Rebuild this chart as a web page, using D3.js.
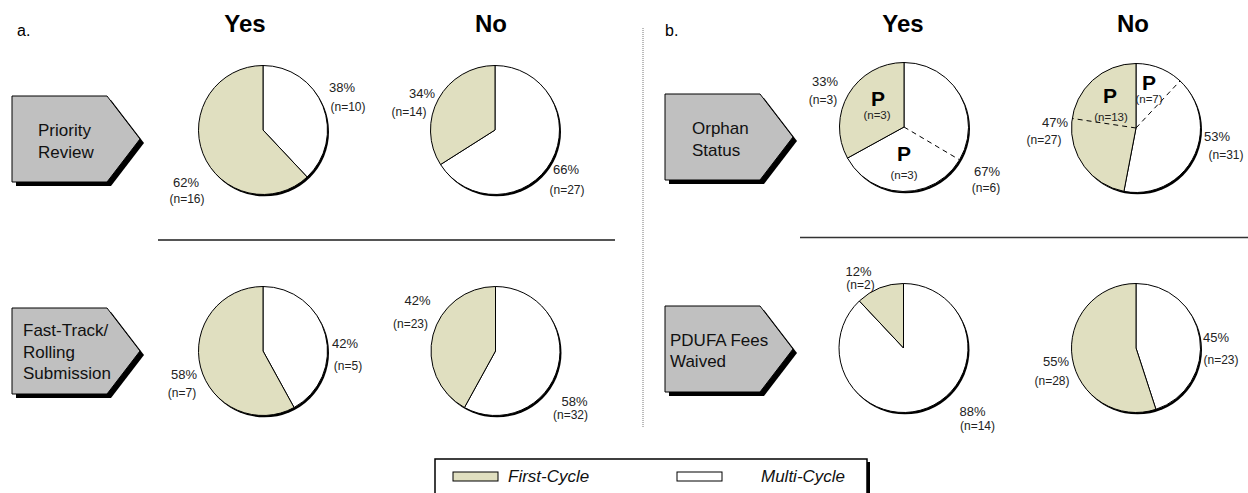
<!DOCTYPE html>
<html>
<head>
<meta charset="utf-8">
<script src="https://cdn.jsdelivr.net/npm/d3@7"></script>
<style>
  body { margin: 0; background: #fff; }
  svg { display: block; font-family: "Liberation Sans", Arial, sans-serif; }
</style>
</head>
<body>
<div class="chart"></div>
<script>
// data
const panelLetters = ['a.', 'b.'];
const columnHeads = ['Yes', 'No'];
const rowLabels = [['Priority', 'Review'], ['Fast-Track/', 'Rolling', 'Submission'], ['Orphan', 'Status'], ['PDUFA Fees', 'Waived']];
// pies ordered: Priority Yes, Priority No, Fast-Track Yes, Fast-Track No, Orphan Yes, Orphan No, PDUFA Yes, PDUFA No
const firstPct = [62, 34, 58, 42, 33, 47, 12, 55];
const multiPct = [38, 66, 42, 58, 67, 53, 88, 45];
const firstN = [16, 14, 7, 23, 3, 27, 2, 28];
const multiN = [10, 27, 5, 32, 6, 31, 14, 23];
// "P" sub-groups (only the orphan pies), null = none
const firstP = [null, null, null, null, 3, 13, null, null];
const multiP = [null, null, null, null, 3, 7, null, null];
const legendLabels = ['First-Cycle', 'Multi-Cycle'];

// layout
const width = 1248;
const height = 493;
const beige = '#e0dfc0';
const radius = 64.5;
const pieCenters = [
  [263, 130], [495, 130], [263, 351], [495.5, 351],
  [904, 127], [1136, 128], [903.5, 348], [1136, 348],
];
// label offsets from pie centre: [pctDx, pctDy, nDx, nDy]
const firstLabelPos = [
  [-77, 52, -76, 69], [-73, -37, -86, -18], [-79, 23, -81, 42], [-78, -51, -85, -27],
  [-79, -46, -81, -27], [-81, -6, -92, 12], [-45, -77, -43, -63], [-80, 13, -84, 33],
];
const multiLabelPos = [
  [79, -43, 85, -23], [71, 39, 72, 60], [82, -8, 85, 15], [79, 50, 75, 64],
  [83, 44, 82, 61], [81, 8, 90, 27], [69, 63, 74, 78], [80, -11, 85, 12],
];
// P label offsets [pDx, pBaselineDy, nDx, nDy]
const firstPPos = [null, null, null, null, [-26, -21, -27, -12], [-26, -25, -25, -11], null, null];
const multiPPos = [null, null, null, null, [0, 34, 0, 48], [13, -38, 13, -29], null, null];
const arrowBoxes = [
  { x: 12, y: 96, text: 38, lines: [130, 152] },
  { x: 12, y: 308, text: 23, lines: [330, 352, 373] },
  { x: 665, y: 94, text: 692, lines: [128, 150] },
  { x: 665, y: 306, text: 670, lines: [340, 361] },
];

const svg = d3.select('.chart').append('svg')
  .attr('width', width)
  .attr('height', height);

// panel letters and column heads
svg.selectAll('text.panel')
  .data(panelLetters)
  .enter()
  .append('text')
  .attr('class', 'panel')
  .attr('x', (d, i) => [17, 665][i])
  .attr('y', 30)
  .attr('dominant-baseline', 'central')
  .style('font-size', '16px')
  .text(d => d);

const headPos = [[245, 491], [903, 1133]];
headPos.forEach(xs => {
  xs.forEach((x, i) => {
    svg.append('text')
      .attr('x', x)
      .attr('y', 23)
      .attr('text-anchor', 'middle')
      .attr('dominant-baseline', 'central')
      .style('font-size', '24px')
      .style('font-weight', 'bold')
      .text(columnHeads[i]);
  });
});

// dividers
svg.append('line')
  .attr('x1', 643).attr('x2', 643)
  .attr('y1', 28).attr('y2', 427)
  .attr('stroke', '#777')
  .attr('stroke-width', 1)
  .attr('stroke-dasharray', '1,1');
svg.append('line')
  .attr('x1', 158).attr('x2', 615)
  .attr('y1', 240).attr('y2', 240)
  .attr('stroke', '#555')
  .attr('stroke-width', 2);
svg.append('line')
  .attr('x1', 800).attr('x2', 1248)
  .attr('y1', 237.5).attr('y2', 237.5)
  .attr('stroke', '#333')
  .attr('stroke-width', 1.5);

// arrow label boxes
const arrowPath = b => {
  const w = 95, tip = 33, h = 86;
  return `M${b.x},${b.y}H${b.x + w}L${b.x + w + tip},${b.y + h / 2}L${b.x + w},${b.y + h}H${b.x}Z`;
};
arrowBoxes.forEach((b, i) => {
  svg.append('path')
    .attr('d', arrowPath(b))
    .attr('transform', 'translate(4,4)')
    .attr('fill', '#000');
  svg.append('path')
    .attr('d', arrowPath(b))
    .attr('fill', '#c0c0c0')
    .attr('stroke', '#000')
    .attr('stroke-width', 1);
  rowLabels[i].forEach((line, j) => {
    svg.append('text')
      .attr('x', b.text)
      .attr('y', b.lines[j])
      .attr('dominant-baseline', 'central')
      .style('font-size', '17px')
      .attr('fill', '#111')
      .text(line);
  });
});

// pies
const pie = d3.pie().sort(null).value(d => d.value);
const arc = d3.arc().innerRadius(0).outerRadius(radius);
const pointAt = a => [Math.sin(a) * radius, -Math.cos(a) * radius];

firstPct.forEach((fp, i) => {
  const [cx, cy] = pieCenters[i];
  const g = svg.append('g').attr('transform', `translate(${cx},${cy})`);
  g.append('circle')
    .attr('cx', 1.5).attr('cy', 1.8)
    .attr('r', radius)
    .attr('fill', '#000');
  const slices = pie([
    { key: 'multi', value: multiPct[i] },
    { key: 'first', value: fp },
  ]);
  g.selectAll('path')
    .data(slices)
    .enter()
    .append('path')
    .attr('d', arc)
    .attr('fill', d => d.data.key === 'first' ? beige : '#fff')
    .attr('stroke', '#000')
    .attr('stroke-width', 1);

  // dashed splits for P sub-groups
  const multiSlice = slices[0];
  const firstSlice = slices[1];
  if (multiP[i] !== null && multiP[i] < multiN[i]) {
    const span = multiSlice.endAngle - multiSlice.startAngle;
    // P group in orphan No sits at the top of the slice, in orphan Yes at the bottom
    const frac = i === 5 ? multiP[i] / multiN[i] : 1 - multiP[i] / multiN[i];
    const [x, y] = pointAt(multiSlice.startAngle + span * frac);
    g.append('line')
      .attr('x1', 0).attr('y1', 0).attr('x2', x).attr('y2', y)
      .attr('stroke', '#000')
      .attr('stroke-dasharray', '5,4');
  }
  if (firstP[i] !== null && firstP[i] < firstN[i]) {
    const span = firstSlice.endAngle - firstSlice.startAngle;
    const [x, y] = pointAt(firstSlice.endAngle - span * (firstP[i] / firstN[i]));
    g.append('line')
      .attr('x1', 0).attr('y1', 0).attr('x2', x).attr('y2', y)
      .attr('stroke', '#000')
      .attr('stroke-dasharray', '5,4');
  }

  // percent + n labels
  const labels = [
    [firstLabelPos[i], `${fp}%`, `(n=${firstN[i]})`],
    [multiLabelPos[i], `${multiPct[i]}%`, `(n=${multiN[i]})`],
  ];
  labels.forEach(([p, pct, n]) => {
    g.append('text')
      .attr('x', p[0]).attr('y', p[1])
      .attr('text-anchor', 'middle')
      .attr('dominant-baseline', 'central')
      .style('font-size', '13px')
      .attr('fill', '#222')
      .text(pct);
    g.append('text')
      .attr('x', p[2]).attr('y', p[3])
      .attr('text-anchor', 'middle')
      .attr('dominant-baseline', 'central')
      .style('font-size', '12px')
      .attr('fill', '#222')
      .text(n);
  });

  [[firstPPos[i], firstP[i]], [multiPPos[i], multiP[i]]].forEach(([p, n]) => {
    if (!p) return;
    g.append('text')
      .attr('x', p[0]).attr('y', p[1])
      .attr('text-anchor', 'middle')
      .style('font-size', '21px')
      .style('font-weight', 'bold')
      .text('P');
    g.append('text')
      .attr('x', p[2]).attr('y', p[3])
      .attr('text-anchor', 'middle')
      .attr('dominant-baseline', 'central')
      .style('font-size', '11.5px')
      .attr('fill', '#222')
      .text(`(n=${n})`);
  });
});

// legend
svg.append('rect')
  .attr('x', 438).attr('y', 462)
  .attr('width', 432).attr('height', 60)
  .attr('fill', '#000');
svg.append('rect')
  .attr('x', 435).attr('y', 459)
  .attr('width', 432).attr('height', 60)
  .attr('fill', '#fff')
  .attr('stroke', '#000')
  .attr('stroke-width', 1.5);
const legendX = [[453, 508], [677, 761]];
legendLabels.forEach((label, i) => {
  svg.append('rect')
    .attr('x', legendX[i][0]).attr('y', 472)
    .attr('width', 45).attr('height', 9)
    .attr('fill', i === 0 ? beige : '#fff')
    .attr('stroke', '#000')
    .attr('stroke-width', 1);
  svg.append('text')
    .attr('x', legendX[i][1]).attr('y', 476)
    .attr('dominant-baseline', 'central')
    .style('font-size', '17px')
    .style('font-style', 'italic')
    .attr('fill', '#111')
    .text(label);
});
</script>
</body>
</html>
